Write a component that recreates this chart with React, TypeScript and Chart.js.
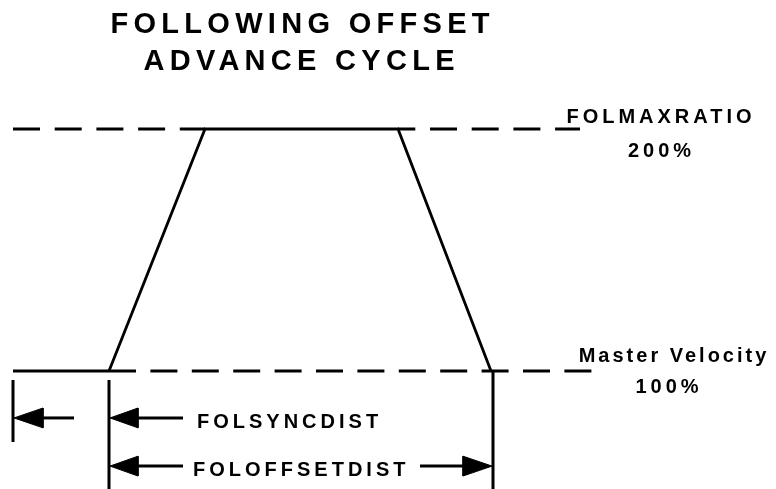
import React, { useEffect, useRef } from "react";
import { Chart, registerables } from "chart.js";

Chart.register(...registerables);

// x: master travel (drawing units), y: follower velocity in % of master
const X_MIN = 0;
const X_MAX = 776;
const Y_MIN = 51.24;
const Y_MAX = 253.31;

// Follower velocity profile (trapezoid)
const profileX = [109, 205, 398, 491];
const profileY = [100, 200, 200, 100];

// Reference levels
const maxRatioLevel = 200;
const masterLevel = 100;
const maxLineLeftX = [13, 205];
const maxLineRightX = [398, 580];
const masterSolidX = [13, 109];
const masterDashX = [109, 592];

// Vertical marker lines
const vertX = [13, 109, 493];
const vertTop = [96.3, 96.3, 100];
const vertBottom = [70.7, 51.2, 51.2];

// Dimension arrows
const arrowY = [80.6, 80.6, 60.7, 60.7];
const arrowTipX = [14, 110, 110, 492];
const arrowBaseX = [43, 138, 138, 463];
const arrowTailX = [74, 183, 183, 420];
const arrowHalf = 4.1;

// Texts
const titleLines = ["FOLLOWING OFFSET", "ADVANCE CYCLE"];
const titleX = [300, 299];
const titleY = [239.7, 224.4];

const levelLabels = ["FOLMAXRATIO", "200%", "Master Velocity", "100%"];
const levelLabelX = [659, 659.5, 672.5, 667];
const levelLabelY = [202.5, 188.4, 103.7, 90.9];

const distLabels = ["FOLSYNCDIST", "FOLOFFSETDIST"];
const distLabelX = [197, 193];
const distLabelY = [76.4, 56.6];

const FONT = '"Liberation Sans", Arial, Helvetica, sans-serif';
const DASH_TOP = [27, 14.7];
const DASH_BOTTOM = [27, 14.4];

function seg(xs: number[], ys: number[], extra: any = {}) {
  return {
    data: xs.map((x, i) => ({ x, y: ys[i] })),
    showLine: true,
    borderColor: "#000",
    backgroundColor: "#000",
    borderWidth: 3,
    borderDash: [],
    pointRadius: 0,
    pointHoverRadius: 0,
    fill: false,
    tension: 0,
    borderCapStyle: "butt",
    borderJoinStyle: "miter",
    ...extra,
  };
}

const textPlugin = {
  id: "diagramText",
  afterDatasetsDraw(chart: any) {
    const ctx = chart.ctx;
    const xs = chart.scales.x;
    const ys = chart.scales.y;
    const draw = (t: string, x: number, y: number, size: number, sp: number, center: boolean) => {
      ctx.save();
      ctx.font = `bold ${size}px ${FONT}`;
      (ctx as any).letterSpacing = `${sp}px`;
      ctx.fillStyle = "#000";
      ctx.textAlign = "left";
      ctx.textBaseline = "alphabetic";
      const w = ctx.measureText(t).width - sp;
      let px = xs.getPixelForValue(x);
      if (center) px -= w / 2;
      ctx.fillText(t, px, ys.getPixelForValue(y));
      ctx.restore();
    };
    titleLines.forEach((t, i) => draw(t, titleX[i], titleY[i], 29, 5.3, true));
    levelLabels.forEach((t, i) =>
      draw(t, levelLabelX[i], levelLabelY[i], 20, t === "Master Velocity" ? 3 : 4, true)
    );
    distLabels.forEach((t, i) => draw(t, distLabelX[i], distLabelY[i], 20, 4, false));
  },
};

export default function App() {
  const ref = useRef<HTMLCanvasElement | null>(null);
  useEffect(() => {
    if (!ref.current) return;
    const datasets: any[] = [];
    const period = DASH_TOP[0] + DASH_TOP[1];
    const phase = (maxLineRightX[0] - maxLineLeftX[0]) % period;
    datasets.push(seg(maxLineLeftX, [maxRatioLevel, maxRatioLevel], { borderDash: DASH_TOP }));
    datasets.push(
      seg(maxLineRightX, [maxRatioLevel, maxRatioLevel], { borderDash: DASH_TOP, borderDashOffset: phase })
    );
    datasets.push(seg(masterDashX, [masterLevel, masterLevel], { borderDash: DASH_BOTTOM }));
    datasets.push(seg(masterSolidX, [masterLevel, masterLevel]));
    datasets.push(seg(profileX, profileY, { borderWidth: 2.8 }));
    vertX.forEach((x, i) => datasets.push(seg([x, x], [vertTop[i], vertBottom[i]])));
    arrowY.forEach((y, i) => {
      datasets.push(seg([arrowBaseX[i], arrowTailX[i]], [y, y]));
      datasets.push(
        seg(
          [arrowTipX[i], arrowBaseX[i], arrowBaseX[i], arrowTipX[i]],
          [y, y + arrowHalf, y - arrowHalf, y],
          { borderWidth: 1, fill: "shape" }
        )
      );
    });
    const chart = new Chart(ref.current, {
      type: "scatter",
      data: { datasets },
      options: {
        responsive: false,
        animation: false,
        devicePixelRatio: 1,
        layout: { padding: 0 },
        events: [],
        plugins: {
          legend: { display: false },
          title: { display: false },
          tooltip: { enabled: false },
        },
        scales: {
          x: { type: "linear", min: X_MIN, max: X_MAX, display: false },
          y: { type: "linear", min: Y_MIN, max: Y_MAX, display: false },
        },
      },
      plugins: [textPlugin],
    } as any);
    return () => chart.destroy();
  }, []);
  return (
    <div style={{ position: "absolute", left: 0, top: 0, width: 776, height: 489, background: "#fff" }}>
      <canvas ref={ref} width={776} height={489} style={{ display: "block" }} />
    </div>
  );
}
